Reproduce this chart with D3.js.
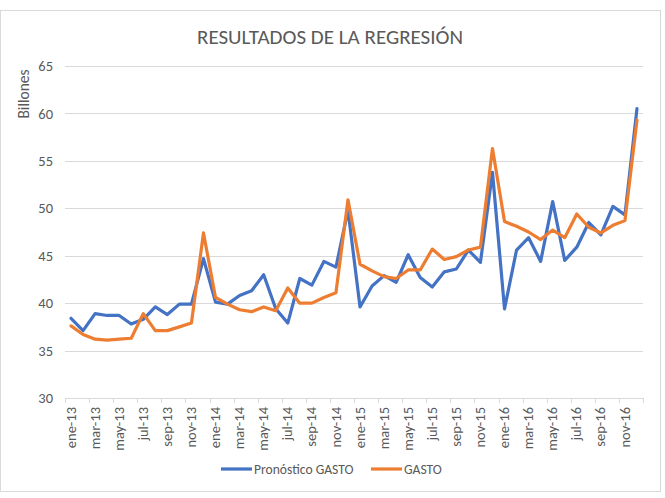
<!DOCTYPE html>
<html>
<head>
<meta charset="utf-8">
<script src="https://cdn.jsdelivr.net/npm/d3@7"></script>
<style>
  body { margin: 0; background: #fff; }
  svg text { font-family: Carlito, "Open Sans", sans-serif; fill: #595959; }
</style>
</head>
<body>
<div id="chart"></div>
<script>
(function()
{
    // months ene-13 .. dic-16
    var monthNames = ["ene", "feb", "mar", "abr", "may", "jun", "jul", "ago", "sep", "oct", "nov", "dic"];
    var years = ["13", "14", "15", "16"];
    var months = [];
    years.forEach(function(y) {
        monthNames.forEach(function(m) { months.push(m + "-" + y); });
    });

    var pronostico = [
        38.4, 37.1, 38.9, 38.7, 38.7, 37.8, 38.3, 39.6, 38.8, 39.9, 39.9, 44.7,
        40.1, 39.9, 40.8, 41.3, 43.0, 39.4, 37.9, 42.6, 41.9, 44.4, 43.8, 49.8,
        39.6, 41.8, 42.9, 42.2, 45.1, 42.7, 41.7, 43.3, 43.6, 45.6, 44.3, 53.8,
        39.4, 45.6, 46.9, 44.4, 50.7, 44.5, 45.9, 48.5, 47.2, 50.2, 49.3, 60.5
    ];
    var gasto = [
        37.6, 36.7, 36.2, 36.1, 36.2, 36.3, 38.9, 37.1, 37.1, 37.5, 37.9, 47.4,
        40.6, 39.9, 39.3, 39.1, 39.6, 39.2, 41.6, 40.0, 40.0, 40.6, 41.1, 50.9,
        44.1, 43.4, 42.8, 42.6, 43.5, 43.5, 45.7, 44.6, 44.9, 45.6, 45.9, 56.3,
        48.6, 48.1, 47.5, 46.7, 47.7, 46.9, 49.4, 48.0, 47.4, 48.2, 48.7, 59.3
    ];
    var yTicks = [30, 35, 40, 45, 50, 55, 60, 65];

    var series = [
        { name: "Pronóstico GASTO", values: pronostico, color: "#4472C4" },
        { name: "GASTO", values: gasto, color: "#ED7D31" }
    ];

    var W = 665, H = 498;
    var left = 65, right = 643, top = 66, bottom = 398;

    var svg = d3.select("#chart").append("svg")
        .attr("width", W)
        .attr("height", H);

    // chart frame
    svg.append("rect")
        .attr("x", 0.5).attr("y", 10.5)
        .attr("width", 660).attr("height", 481)
        .attr("fill", "#fff")
        .attr("stroke", "#d9d9d9");

    var x = d3.scaleBand().domain(months).range([left, right]);
    var y = d3.scaleLinear().domain([30, 65]).range([bottom, top]);

    // gridlines
    svg.append("g").selectAll("line")
        .data(yTicks.filter(function(d) { return d > 30; }))
        .enter().append("line")
        .attr("x1", left).attr("x2", right)
        .attr("y1", function(d) { return Math.round(y(d)) + 0.5; })
        .attr("y2", function(d) { return Math.round(y(d)) + 0.5; })
        .attr("stroke", "#d9d9d9")
        .attr("stroke-width", 1);

    // y axis labels
    var yAxis = d3.axisLeft(y).tickValues(yTicks).tickSize(0).tickPadding(12);
    var gy = svg.append("g")
        .attr("transform", "translate(" + left + ",0)")
        .call(yAxis);
    gy.select(".domain").remove();
    gy.selectAll("text").style("font-size", "14.5px").attr("fill", "#595959");

    // x axis
    var tickMonths = months.filter(function(d, i) { return i % 2 === 0; });
    var xAxis = d3.axisBottom(x).tickValues(tickMonths).tickSize(0).tickPadding(0);
    var gx = svg.append("g")
        .attr("transform", "translate(0," + bottom + ")")
        .call(xAxis);
    gx.select(".domain")
        .attr("stroke", "#d9d9d9");
    gx.selectAll("text")
        .style("font-size", "14.5px")
        .attr("fill", "#595959")
        .attr("transform", "rotate(-90)")
        .attr("text-anchor", "end")
        .attr("dy", "0.32em")
        .attr("x", -9)
        .attr("y", 0);

    // category boundary ticks every two months
    var boundaries = tickMonths.map(function(d) { return x(d); }).concat([right]);
    svg.append("g").selectAll("line")
        .data(boundaries)
        .enter().append("line")
        .attr("x1", function(d) { return Math.round(d) + 0.5; })
        .attr("x2", function(d) { return Math.round(d) + 0.5; })
        .attr("y1", bottom).attr("y2", bottom + 5)
        .attr("stroke", "#d9d9d9");

    // series lines
    var line = d3.line()
        .x(function(d, i) { return x(months[i]) + x.bandwidth() / 2; })
        .y(function(d) { return y(d); });

    svg.append("g").selectAll("path")
        .data(series)
        .enter().append("path")
        .attr("d", function(s) { return line(s.values); })
        .attr("fill", "none")
        .attr("stroke", function(s) { return s.color; })
        .attr("stroke-width", 3.2)
        .attr("stroke-linejoin", "round")
        .attr("stroke-linecap", "round");

    // title
    svg.append("text")
        .attr("x", 330).attr("y", 44)
        .attr("text-anchor", "middle")
        .style("font-size", "21px")
        .text("RESULTADOS DE LA REGRESIÓN");

    // y axis title
    svg.append("text")
        .attr("transform", "translate(29,94) rotate(-90)")
        .attr("text-anchor", "middle")
        .style("font-size", "15.5px")
        .text("Billones");

    // legend
    var legendX = [221, 371];
    var legend = svg.append("g").selectAll("g")
        .data(series)
        .enter().append("g")
        .attr("transform", function(s, i) { return "translate(" + legendX[i] + ",469)"; });
    legend.append("line")
        .attr("x1", 0).attr("x2", 31)
        .attr("stroke", function(s) { return s.color; })
        .attr("stroke-width", 3.2);
    legend.append("text")
        .attr("x", 33).attr("dy", "0.35em")
        .style("font-size", "13.6px")
        .text(function(s) { return s.name; });
})();
</script>
</body>
</html>
